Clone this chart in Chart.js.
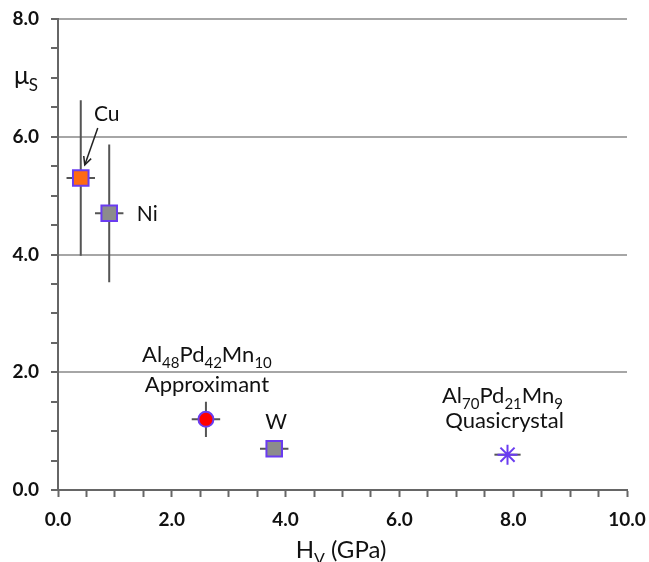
<!DOCTYPE html>
<html>
<head>
<meta charset="utf-8">
<script src="https://cdn.jsdelivr.net/npm/chart.js@4.4.1/dist/chart.umd.min.js"></script>
<style>
  html,body{margin:0;padding:0;background:#fff;}
  #wrap{width:649px;height:562px;}
</style>
</head>
<body>
<div id="wrap"><canvas id="c" width="649" height="562"></canvas></div>
<script>
// data
var materials   = ["Cu","Ni","Al48Pd42Mn10","W","Al70Pd21Mn9"];
var hardness    = [0.4, 0.9, 2.6, 3.8, 7.9];     // H_V (GPa)
var friction    = [5.3, 4.7, 1.2, 0.7, 0.6];     // mu_S
var hardnessErr = [0.25, 0.25, 0.25, 0.25, 0.23];
var frictionErr = [1.32, 1.17, 0.3, 0.12, 0];
var xTicks = [0,2,4,6,8,10];
var yTicks = [0,2,4,6,8];

var PURPLE = "#6a3cf0";
var FONT = "Lato, 'Open Sans', sans-serif";

var fills   = ["#ff6a13","#8c8c8c","#ff0000","#8c8c8c",PURPLE];
var shapes  = ["rect","rect","circle","rect","star"];
var radii   = [11,11,7.5,11,10];

function isMajor(v, list){ return list.indexOf(Math.round(v*10)/10) >= 0; }

// error bars under the markers
var errorBars = {
  id:"errorBars",
  beforeDatasetsDraw:function(chart){
    var ctx = chart.ctx, xs = chart.scales.x, ys = chart.scales.y;
    ctx.save();
    ctx.strokeStyle = "#555"; ctx.lineWidth = 2;
    for (var i=0;i<hardness.length;i++){
      var px = xs.getPixelForValue(hardness[i]), py = ys.getPixelForValue(friction[i]);
      ctx.beginPath();
      ctx.moveTo(xs.getPixelForValue(hardness[i]-hardnessErr[i]), py);
      ctx.lineTo(xs.getPixelForValue(hardness[i]+hardnessErr[i]), py);
      if (frictionErr[i] > 0){
        ctx.moveTo(px, ys.getPixelForValue(friction[i]+frictionErr[i]));
        ctx.lineTo(px, ys.getPixelForValue(friction[i]-frictionErr[i]));
      }
      ctx.stroke();
    }
    ctx.restore();
  }
};

// text with subscripts, centered on cx, main text middle on cy
function subText(ctx, parts, cx, cy, size){
  var w = 0, i;
  for (i=0;i<parts.length;i++){
    ctx.font = (parts[i][1] ? Math.round(size*0.68) : size) + "px " + FONT;
    w += ctx.measureText(parts[i][0]).width;
  }
  var x = cx - w/2;
  ctx.textAlign = "left"; ctx.textBaseline = "alphabetic";
  var base = cy + size*0.36;
  for (i=0;i<parts.length;i++){
    ctx.font = (parts[i][1] ? Math.round(size*0.68) : size) + "px " + FONT;
    ctx.fillText(parts[i][0], x, parts[i][1] ? base + size*0.28 : base);
    x += ctx.measureText(parts[i][0]).width;
  }
}

var labels = {
  id:"labels",
  afterDraw:function(chart){
    var ctx = chart.ctx, xs = chart.scales.x, ys = chart.scales.y;
    function P(i){ return [xs.getPixelForValue(hardness[i]), ys.getPixelForValue(friction[i])]; }
    ctx.save();
    ctx.fillStyle = "#111";
    var p = P(0);
    subText(ctx, [["Cu"]], p[0]+26, p[1]-65, 21);
    // arrow Cu label -> point
    ctx.strokeStyle = "#222"; ctx.lineWidth = 1.5;
    var ax = p[0]+17, ay = p[1]-50, bx = p[0]+4, by = p[1]-13;
    ctx.beginPath(); ctx.moveTo(ax,ay); ctx.lineTo(bx,by); ctx.stroke();
    var ang = Math.atan2(by-ay, bx-ax);
    ctx.beginPath();
    ctx.moveTo(bx - 9*Math.cos(ang-0.45), by - 9*Math.sin(ang-0.45));
    ctx.lineTo(bx, by);
    ctx.lineTo(bx - 9*Math.cos(ang+0.45), by - 9*Math.sin(ang+0.45));
    ctx.stroke();

    p = P(1);
    subText(ctx, [["Ni"]], p[0]+38, p[1], 21);
    p = P(2);
    subText(ctx, [["Al"],["48",1],["Pd"],["42",1],["Mn"],["10",1]], p[0]+1, p[1]-65, 22);
    subText(ctx, [["Approximant"]], p[0]+1, p[1]-35, 22);
    p = P(3);
    subText(ctx, [["W"]], p[0]+2, p[1]-27, 21);
    p = P(4);
    subText(ctx, [["Al"],["70",1],["Pd"],["21",1],["Mn"],["9",1]], p[0]-5, p[1]-60, 22);
    subText(ctx, [["Quasicrystal"]], p[0]-3, p[1]-35, 22);

    // axis titles
    subText(ctx, [["\u03bc"],["S",1]], 26, 75, 25);
    subText(ctx, [["H"],["V",1],[" (GPa)"]], 341, 549, 24);
    ctx.restore();
  }
};

var ctx = document.getElementById("c").getContext("2d");
new Chart(ctx, {
  type:"scatter",
  data:{
    datasets:[{
      data: hardness.map(function(h,i){ return {x:h, y:friction[i]}; }),
      pointStyle: shapes,
      pointRadius: radii,
      pointHoverRadius: radii,
      backgroundColor: fills,
      borderColor: PURPLE,
      borderWidth: 2
    }]
  },
  options:{
    responsive:false,
    animation:false,
    events:[],
    layout:{ padding:{ top:19, right:22, left:0, bottom:0 } },
    plugins:{ legend:{display:false}, tooltip:{enabled:false} },
    scales:{
      x:{
        type:"linear", min:0, max:10,
        border:{ display:true, color:"#666", width:2 },
        grid:{ color:"rgba(0,0,0,0)", tickColor:"#666", tickLength:7, tickWidth:2 },
        ticks:{
          stepSize:0.5, autoSkip:false, maxRotation:0, padding:11,
          color:"#111", font:{ family:FONT, size:19, weight:"bold" },
          callback:function(v){ return isMajor(v,xTicks) ? v.toFixed(1) : ""; }
        },
        afterFit:function(s){ s.height = 72; s.paddingLeft = 0; s.paddingRight = 0; }
      },
      y:{
        type:"linear", min:0, max:8,
        border:{ display:true, color:"#666", width:2 },
        grid:{
          color:function(c){ return (c.tick && c.tick.value>0 && isMajor(c.tick.value,yTicks)) ? "#a6a6a6" : "rgba(0,0,0,0)"; },
          lineWidth:2, tickColor:"#666", tickLength:7, tickWidth:2
        },
        ticks:{
          stepSize:0.5, autoSkip:false, padding:12,
          color:"#111", font:{ family:FONT, size:19, weight:"bold" },
          callback:function(v){ return isMajor(v,yTicks) ? v.toFixed(1) : ""; }
        },
        afterFit:function(s){ s.width = 58; s.paddingTop = 0; s.paddingBottom = 0; }
      }
    }
  },
  plugins:[errorBars, labels]
});
</script>
</body>
</html>
